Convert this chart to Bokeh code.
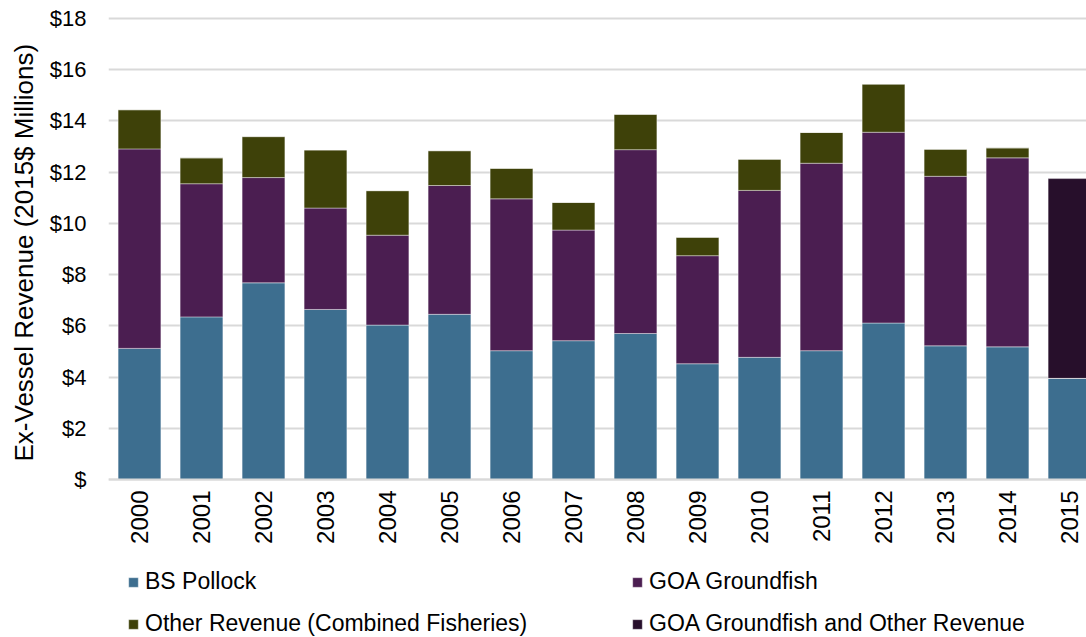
import math
from bokeh.plotting import figure
from bokeh.models import Range1d, FixedTicker, Legend, LegendItem, ColumnDataSource, Title
from bokeh.embed import file_html
from bokeh.resources import INLINE

# ---- data ----
years = ["2000", "2001", "2002", "2003", "2004", "2005", "2006", "2007",
         "2008", "2009", "2010", "2011", "2012", "2013", "2014", "2015"]
bs_pollock = [5.12, 6.35, 7.68, 6.64, 6.03, 6.45, 5.03, 5.42,
              5.70, 4.52, 4.77, 5.03, 6.11, 5.22, 5.18, 3.95]
goa_groundfish = [7.79, 5.20, 4.11, 3.96, 3.51, 5.03, 5.93, 4.32,
                  7.18, 4.22, 6.52, 7.32, 7.45, 6.62, 7.38, None]
other_revenue = [1.53, 1.01, 1.60, 2.27, 1.74, 1.36, 1.19, 1.08,
                 1.38, 0.72, 1.22, 1.20, 1.88, 1.06, 0.39, None]
goa_and_other = [None, None, None, None, None, None, None, None,
                 None, None, None, None, None, None, None, 7.80]
series_names = ["BS Pollock", "GOA Groundfish",
                "Other Revenue (Combined Fisheries)",
                "GOA Groundfish and Other Revenue"]
y_ticks = [0, 2, 4, 6, 8, 10, 12, 14, 16, 18]
y_tick_labels = ["$", "$2", "$4", "$6", "$8", "$10", "$12", "$14", "$16", "$18"]
y_title = "Ex-Vessel Revenue (2015$ Millions)"

colors = ["#3D6E8F", "#4B1E51", "#3E4109", "#270F2B"]
FONT = "Liberation Sans"

xs = list(range(len(years)))
z = lambda arr: [0 if v is None else v for v in arr]
src = ColumnDataSource(dict(x=xs, bs=z(bs_pollock), goa=z(goa_groundfish),
                            oth=z(other_revenue), comb=z(goa_and_other)))

# frame spans down to the page bottom so that the legend below the axis is not clipped
p = figure(width=1086, height=637, output_backend="svg", toolbar_location=None,
           x_range=Range1d(-0.5, 15.274), y_range=Range1d(-6.17, 18.08),
           min_border_left=108, min_border_right=0, min_border_top=16,
           min_border_bottom=0, outline_line_color=None,
           background_fill_color="white", border_fill_color="white")

rs = p.vbar_stack(["bs", "goa", "oth", "comb"], x="x", width=0.69, source=src,
                  color=colors, line_color="white", line_alpha=0.4, line_width=1)

# grid
p.xgrid.visible = False
p.ygrid.grid_line_color = "#D9D9D9"
p.ygrid.grid_line_width = 2
p.ygrid.ticker = FixedTicker(ticks=y_ticks)

# y axis
p.yaxis.ticker = FixedTicker(ticks=y_ticks)
p.yaxis.major_label_overrides = dict(zip(y_ticks, y_tick_labels))
p.yaxis.axis_line_color = None
p.yaxis.major_tick_line_color = None
p.yaxis.minor_tick_line_color = None
p.yaxis.major_tick_out = 0
p.yaxis.major_tick_in = 0
p.yaxis.minor_tick_out = 0
p.yaxis.major_label_standoff = 22
p.yaxis.major_label_text_font = FONT
p.yaxis.major_label_text_font_size = "22px"
p.yaxis.major_label_text_color = "#000000"

p.add_layout(Title(text=y_title, align="left", offset=176, standoff=14,
                   vertical_align="middle",
                   text_font=FONT, text_font_size="26px", text_font_style="normal",
                   text_color="#000000"), "left")

# x axis drawn at y = 0
p.xaxis.fixed_location = 0
p.xaxis.ticker = FixedTicker(ticks=xs)
p.xaxis.major_label_overrides = dict(zip(xs, years))
p.xaxis.major_label_orientation = math.pi / 2
p.xaxis.axis_line_color = "#D9D9D9"
p.xaxis.axis_line_width = 2
p.xaxis.major_tick_line_color = None
p.xaxis.minor_tick_line_color = None
p.xaxis.major_tick_out = 0
p.xaxis.major_tick_in = 0
p.xaxis.minor_tick_out = 0
p.xaxis.major_label_standoff = 11
p.xaxis.major_label_text_font = FONT
p.xaxis.major_label_text_font_size = "24px"
p.xaxis.major_label_text_color = "#000000"

legend = Legend(items=[LegendItem(label=n, renderers=[r]) for n, r in zip(series_names, rs)],
                location=(19, 0), orientation="horizontal", ncols=2,
                glyph_width=12, glyph_height=12, label_standoff=6,
                label_width=471, label_height=26, spacing=15,
                padding=0, margin=0, border_line_color=None,
                background_fill_alpha=0,
                label_text_font=FONT, label_text_font_size="23px",
                label_text_color="#000000")
p.add_layout(legend, "center")

open("out.html", "w").write(file_html(p, INLINE))
